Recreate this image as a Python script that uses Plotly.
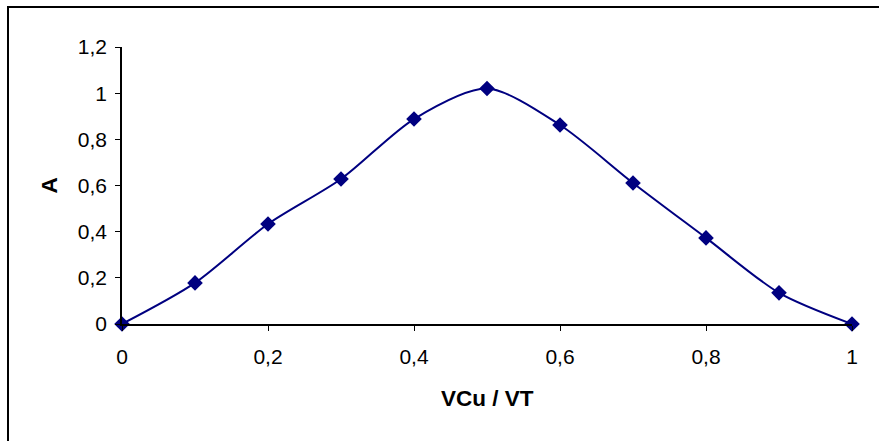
import plotly.graph_objects as go

x_vals = [0, 0.1, 0.2, 0.3, 0.4, 0.5, 0.6, 0.7, 0.8, 0.9, 1.0]
a_vals = [0, 0.178, 0.433, 0.628, 0.888, 1.02, 0.862, 0.611, 0.373, 0.135, 0]
x_ticks = [0, 0.2, 0.4, 0.6, 0.8, 1.0]
x_tick_text = ["0", "0,2", "0,4", "0,6", "0,8", "1"]
y_ticks = [0, 0.2, 0.4, 0.6, 0.8, 1.0, 1.2]
y_tick_text = ["0", "0,2", "0,4", "0,6", "0,8", "1", "1,2"]

fig = go.Figure()
fig.add_trace(go.Scatter(
    x=x_vals, y=a_vals, mode="lines+markers",
    line=dict(color="#000080", width=2, shape="spline", smoothing=0.8),
    marker=dict(symbol="diamond", size=12, color="#000080"),
    cliponaxis=False, showlegend=False,
))

font = "Liberation Sans, Arial, sans-serif"
fig.update_layout(
    width=879, height=441,
    margin=dict(l=122, r=27, t=47, b=117),
    paper_bgcolor="white", plot_bgcolor="white",
    font=dict(family=font, size=21, color="black"),
    xaxis=dict(range=[0, 1], tickvals=x_ticks, ticktext=x_tick_text,
               tickfont=dict(family=font, size=21, color="black"),
               showline=True, linecolor="black", linewidth=1.5,
               ticks="outside", ticklen=5, tickcolor="black", tickwidth=1,
               showgrid=False, zeroline=False, ticklabelstandoff=8),
    yaxis=dict(range=[0, 1.2], tickvals=y_ticks, ticktext=y_tick_text,
               tickfont=dict(family=font, size=21, color="black"),
               showline=True, linecolor="black", linewidth=1.5,
               ticks="outside", ticklen=5, tickcolor="black", tickwidth=1,
               showgrid=False, zeroline=False, ticklabelstandoff=4),
    annotations=[
        dict(text="<b>VCu / VT</b>", xref="paper", yref="paper",
             x=0.5, y=(324 - 398) / 277, showarrow=False,
             xanchor="center", yanchor="middle",
             font=dict(family=font, size=22.5, color="black")),
        dict(text="<b>A</b>", xref="paper", yref="paper",
             x=(49 - 122) / 730, y=0.5, showarrow=False, textangle=-90,
             xanchor="center", yanchor="middle",
             font=dict(family=font, size=22.5, color="black")),
    ],
    shapes=[
        dict(type="rect", xref="paper", yref="paper",
             x0=(8 - 122) / 730, y0=-0.6, x1=1.2, y1=(324 - 7) / 277,
             line=dict(color="black", width=2), fillcolor="rgba(0,0,0,0)"),
    ],
)

fig.write_html("out.html")
